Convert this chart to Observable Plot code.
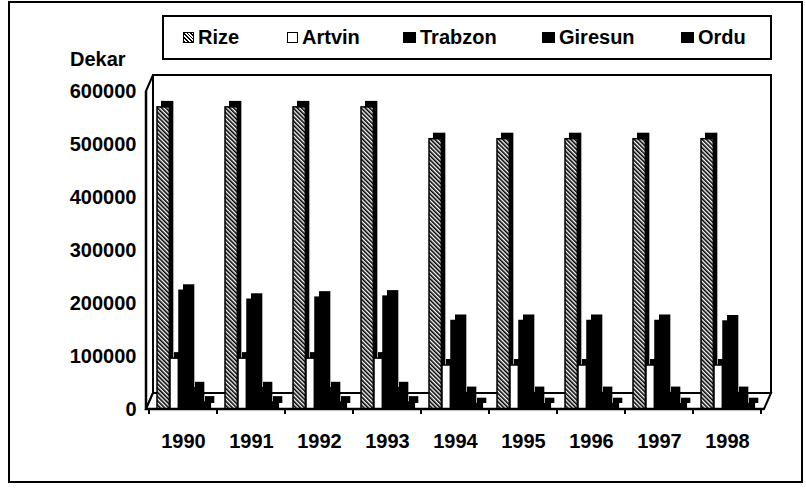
<!DOCTYPE html>
<html><head><meta charset="utf-8">
<script src="https://cdn.jsdelivr.net/npm/d3@7"></script>
<script src="https://cdn.jsdelivr.net/npm/@observablehq/plot@0.6"></script>
<style>
body{margin:0;background:#fff;font-family:"Liberation Sans",Arial,sans-serif;}
#wrap{position:relative;width:806px;height:489px;overflow:hidden;background:#fff;}
#head{position:relative;height:62px;}
#legend{position:absolute;left:162px;top:15px;width:610px;height:45px;border:2px solid #000;box-sizing:border-box;}
.item{position:absolute;top:0;height:41px;display:flex;align-items:center;font-weight:bold;font-size:20px;color:#000;}
.sw{display:inline-block;width:11px;height:11px;margin-right:4px;box-sizing:border-box;border:1px solid #000;}
#dekar{position:absolute;left:70px;top:48px;font-weight:bold;font-size:20px;color:#000;}
#border{position:absolute;left:8px;top:1px;width:795px;height:482px;border:2.5px solid #000;box-sizing:border-box;pointer-events:none;}
svg{display:block;}
</style></head>
<body>
<div id="wrap">
  <div id="head"><div id="legend"></div><div id="dekar">Dekar</div></div>
  <div id="chart"></div>
  <div id="border"></div>
</div>
<script>
// ---- data ----
const years = ["1990","1991","1992","1993","1994","1995","1996","1997","1998"];
const series = ["Rize","Artvin","Trabzon","Giresun","Ordu"];
const rize    = [570000,570000,570000,570000,510000,510000,510000,510000,510000];
const artvin  = [96000,96000,96000,96000,83000,83000,83000,83000,83000];
const trabzon = [224000,207000,211000,213000,167000,167000,167000,167000,166000];
const giresun = [40000,40000,40000,40000,31000,31000,31000,31000,31000];
const ordu    = [13000,13000,13000,13000,10000,10000,10000,10000,10000];
const yTicks  = [0,100000,200000,300000,400000,500000,600000];

// ---- styles ----
const seriesValues = [rize, artvin, trabzon, giresun, ordu];
const fills = ["white","white","black","black","black"];
const starts = [8, 21, 30, 42, 52];
const widths = [13, 9, 12, 10, 10];
const legendLeft = [19, 123, 239, 378, 517];
const W = 806, H = 427, mT = 29, mB = 80, mL = 146, mR = 42;
const bw = (W - mL - mR) / years.length;
const rows = vals => years.map((year, i) => ({year, value: vals[i]}));

// legend
const legend = document.getElementById("legend");
series.forEach((s, k) => {
  const it = document.createElement("div");
  it.className = "item";
  it.style.left = legendLeft[k] + "px";
  const sw = document.createElement("span");
  sw.className = "sw";
  if (k === 0) sw.style.background = "repeating-linear-gradient(45deg,#000 0 1.3px,#fff 1.3px 2.6px)";
  else sw.style.background = fills[k];
  if (k >= 2) sw.style.width = "13px";
  it.appendChild(sw);
  it.appendChild(document.createTextNode(s));
  legend.appendChild(it);
});

const shadows = seriesValues.map((v, k) => Plot.barY(rows(v), {
  x: "year", y: "value", fill: "black",
  insetLeft: starts[k], insetRight: bw - starts[k] - widths[k], dx: 4, dy: -6
}));
const fronts = seriesValues.map((v, k) => Plot.barY(rows(v), {
  x: "year", y: "value", fill: fills[k], stroke: "black", strokeWidth: 1.5,
  insetLeft: starts[k], insetRight: bw - starts[k] - widths[k], ariaDescription: series[k]
}));

const plot = Plot.plot({
  width: W, height: H, marginTop: mT, marginBottom: mB, marginLeft: mL, marginRight: mR,
  x: {domain: years, padding: 0},
  y: {domain: [0, 600000]},
  style: {fontFamily: "Liberation Sans, Arial, sans-serif", color: "black", background: "white", overflow: "visible"},
  marks: [
    ...shadows, ...fronts,
    Plot.axisY(yTicks, {tickSize: 0, tickPadding: 10, tickFormat: d => String(d), fontSize: 20, fontWeight: "bold", label: null}),
    Plot.axisX({tickSize: 0, tickPadding: 24, fontSize: 20, fontWeight: "bold", label: null})
  ]
});
document.getElementById("chart").appendChild(plot);

// ---- 3D box decoration and hatch, derived from the scales ----
const svg = d3.select(plot);
const xs = plot.scale("x"), ys = plot.scale("y");
const L = mL, R = W - mR, T = ys.apply(600000), B = ys.apply(0);
const DX = 7, DY = -16;
const defs = svg.insert("defs", ":first-child");
const pat = defs.append("pattern").attr("id", "hatch").attr("patternUnits", "userSpaceOnUse")
  .attr("width", 3).attr("height", 3).attr("patternTransform", "rotate(-45)");
pat.append("rect").attr("width", 3).attr("height", 3).attr("fill", "white");
pat.append("rect").attr("width", 1.6).attr("height", 3).attr("fill", "black");
let rizeG = svg.selectAll('g[aria-description="Rize"]');
if (rizeG.empty()) rizeG = d3.select(svg.selectAll('g[aria-label="bar"]').nodes()[series.length]);
rizeG.attr("fill", "url(#hatch)");
rizeG.selectAll("rect").attr("fill", "url(#hatch)");

const back = svg.insert("g", "g").attr("fill", "white").attr("stroke", "black").attr("stroke-width", 2);
back.append("rect").attr("x", L + DX).attr("y", T + DY).attr("width", R - L).attr("height", B - T);
back.append("path").attr("d", `M${L},${T}L${L+DX},${T+DY}L${L+DX},${B+DY}L${L},${B}Z`);
back.append("path").attr("d", `M${L},${B}L${L+DX},${B+DY}L${R+DX},${B+DY}L${R},${B}Z`);

const front = svg.append("g").attr("stroke", "black").attr("fill", "none");
front.append("path").attr("stroke-width", 2.5).attr("d", `M${L},${T}L${L},${B}L${R},${B}`);
const bounds = years.map(yv => xs.apply(yv)).concat([xs.apply(years[years.length - 1]) + xs.bandwidth]);
bounds.forEach(bx => front.append("line").attr("stroke-width", 2).attr("x1", bx).attr("x2", bx).attr("y1", B).attr("y2", B + 5));
</script>
</body></html>
